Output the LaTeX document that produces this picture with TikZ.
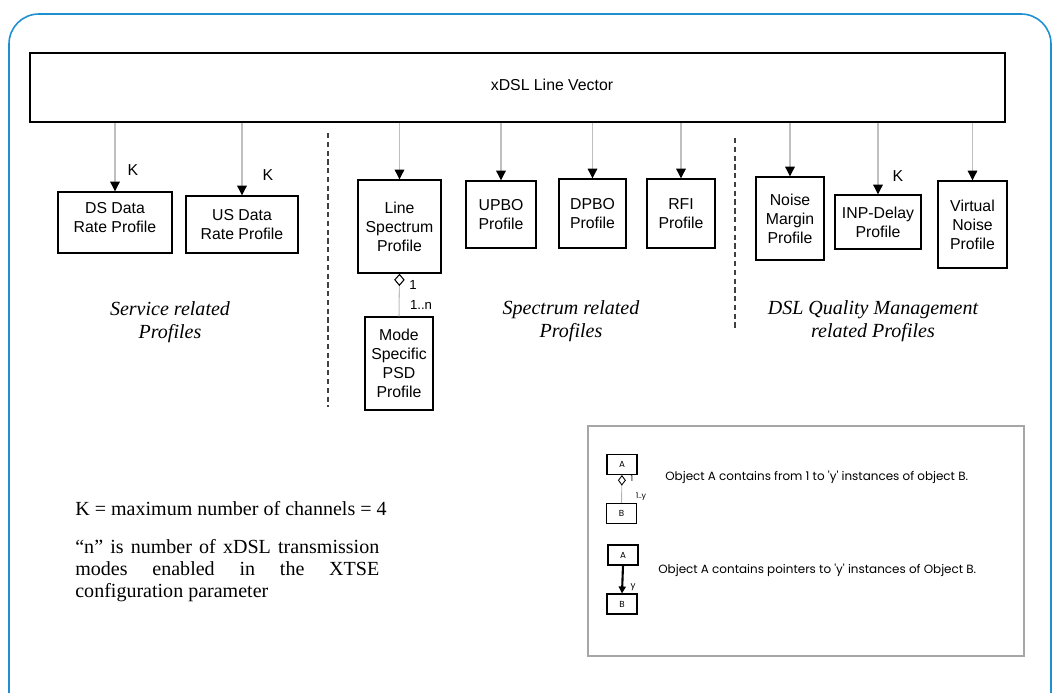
\documentclass[tikz,border=0pt]{standalone}
\usepackage{fontspec}
\setmainfont{Liberation Serif}
\setsansfont{Liberation Sans}
\newfontfamily\legendfont{Poppins}
\usetikzlibrary{arrows.meta,positioning}
\definecolor{frameblue}{RGB}{30,144,210}

\begin{document}
\begin{tikzpicture}[x=0.02cm, y=-0.02cm,
		box/.style={draw, line width=0.8pt, align=center, inner sep=1pt, font=\sffamily\fontsize{9}{10.8}\selectfont},
		feed/.style={draw=gray!50, line width=0.6pt, -{Triangle[width=5.5pt,length=5.5pt,color=black]}},
		mult/.style={font=\sffamily\fontsize{9}{10}\selectfont, inner sep=1pt},
		small/.style={font=\sffamily\fontsize{7.5}{8}\selectfont, inner sep=1pt},
		group/.style={align=center, font=\itshape\fontsize{11.4}{13.2}\selectfont},
		sep/.style={gray!50!black, line width=0.8pt, dash pattern=on 3pt off 2pt},
		lbox/.style={draw, line width=0.6pt, minimum width=0.6cm, minimum height=0.4cm, inner sep=0pt, font=\legendfont\fontsize{5}{6}\selectfont},
		legtext/.style={anchor=west, inner sep=0pt, font=\legendfont\fontsize{6.8}{7}\selectfont},
	]
		\useasboundingbox (0,0) rectangle (1056,693);
		\draw[frameblue, line width=0.9pt, rounded corners=17pt] (9,14) rectangle (1051,730);
		% the vector and its profiles
		\node[draw, line width=1pt, minimum width=19.5cm, minimum height=1.38cm] (vector) at (517.5,87.5) {};
		\node[font=\sffamily\fontsize{9}{10}\selectfont] (vectorlabel) at (552,85) {xDSL Line Vector};
		\node[box, minimum width=2.28cm, minimum height=1.22cm, text depth=6pt] (dsrate) at (115,222.5) {DS Data\\Rate Profile};
		\node[box, minimum width=2.24cm, minimum height=1.14cm] (usrate) at (242,224.5) {US Data\\Rate Profile};
		\node[box, minimum width=1.66cm, minimum height=1.86cm] (linespec) at (399.5,226.5) {Line\\Spectrum\\Profile};
		\node[box, minimum width=1.4cm, minimum height=1.34cm] (upbo) at (501,214.5) {UPBO\\Profile};
		\node[box, minimum width=1.34cm, minimum height=1.38cm] (dpbo) at (592.5,213.5) {DPBO\\Profile};
		\node[box, minimum width=1.36cm, minimum height=1.38cm] (rfi) at (681,213.5) {RFI\\Profile};
		\node[box, minimum width=1.36cm, minimum height=1.86cm] (modepsd) at (399,363.5) {Mode\\Specific\\PSD\\Profile};
		\node[box, minimum width=1.36cm, minimum height=1.66cm] (noisemargin) at (790,218.5) {Noise\\Margin\\Profile};
		\node[box, minimum width=1.72cm, minimum height=1.08cm] (inpdelay) at (878,222) {INP-Delay\\Profile};
		\node[box, minimum width=1.38cm, minimum height=1.74cm] (virtnoise) at (972.5,224.5) {Virtual\\Noise\\Profile};
		\foreach \p in {dsrate,usrate,linespec,upbo,dpbo,rfi,noisemargin,inpdelay,virtnoise} {
			\draw[feed] (vector.south -| \p.north) -- (\p.north);
		}
		\node[mult] (kds) at (133,170) {K};
		\node[mult] (kus) at (268,175) {K};
		\node[mult] (kinp) at (898,176) {K};
		% aggregation of the mode specific PSD
		\draw[gray!50, line width=0.6pt, -{Diamond[open,color=black,width=6pt,length=7pt,line width=0.6pt]}] (modepsd.north) -- (linespec.south);
		\node[small] (onelbl) at (413,285) {1};
		\node[small] (nlbl) at (421,305) {1..n};
		% groups
		\draw[sep] (328,133) -- (328,407);
		\draw[sep] (735,138) -- (735,330);
		\node[group] (servicegrp) at (170,322) {Service related\\Profiles};
		\node[group] (spectrumgrp) at (571,321) {Spectrum related\\Profiles};
		\node[group] (qualitygrp) at (873,321) {DSL Quality Management\\related Profiles};
		% notes
		\node[anchor=west, inner sep=0pt, font=\fontsize{11.4}{12.5}\selectfont] (knote) at (75,509) {K = maximum number of channels = 4};
		\node[anchor=north west, inner sep=0pt, text width=6.08cm, align=justify, font=\fontsize{11.4}{12.6}\selectfont] (nnote) at (75,539) {“n” is number of xDSL transmission\linebreak modes enabled in the XTSE\linebreak configuration parameter};
		% legend
		\node[draw=gray!70, line width=0.8pt, minimum width=8.72cm, minimum height=4.6cm] (legend) at (806,541) {};
		\node[lbox] (aone) at (622,464.5) {A};
		\node[lbox] (bone) at (621.5,513.5) {B};
		\draw[gray!60, line width=0.5pt, -{Diamond[open,color=black,width=4.5pt,length=6pt,line width=0.5pt]}] (bone.north) -- (aone.south);
		\node[small, font=\legendfont\fontsize{4.5}{5}\selectfont] (lone) at (632,479) {1};
		\node[small, font=\legendfont\fontsize{4.5}{5}\selectfont] (ly) at (641,497) {1..y};
		\node[legtext] (contains) at (665,477) {Object A contains from 1 to 'y' instances of object B.};
		\node[lbox] (atwo) at (623,555) {A};
		\node[lbox] (btwo) at (622,604) {B};
		\draw[line width=1.2pt, -{Triangle[width=4pt,length=4pt]}] (atwo.south) -- (btwo.north);
		\node[small, font=\legendfont\fontsize{5}{5}\selectfont] (lyy) at (633,587) {y};
		\node[legtext] (pointers) at (658,570) {Object A contains pointers to 'y' instances of Object B.};
	\end{tikzpicture}
\end{document}
